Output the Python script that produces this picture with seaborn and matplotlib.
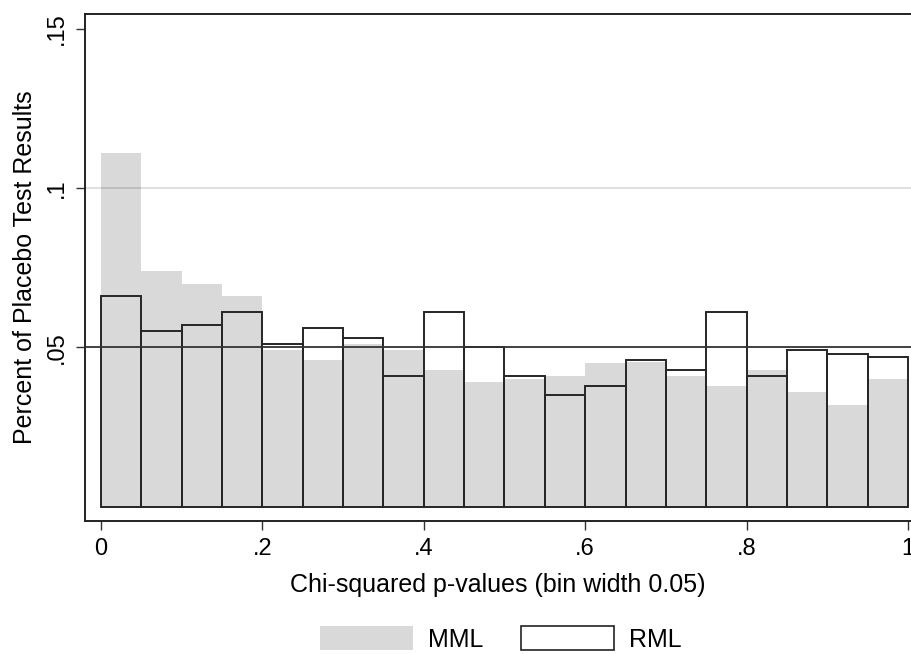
import numpy as np
import pandas as pd
import seaborn as sns
import matplotlib.pyplot as plt
from matplotlib.patches import Patch

# bin heights (bin width 0.05, 20 bins from 0 to 1)
bin_mid = [0.025, 0.075, 0.125, 0.175, 0.225, 0.275, 0.325, 0.375, 0.425, 0.475,
           0.525, 0.575, 0.625, 0.675, 0.725, 0.775, 0.825, 0.875, 0.925, 0.975]
mml = [0.111, 0.074, 0.070, 0.066, 0.049, 0.046, 0.051, 0.049, 0.043, 0.039,
       0.040, 0.041, 0.045, 0.0455, 0.041, 0.038, 0.043, 0.036, 0.032, 0.040]
rml = [0.066, 0.055, 0.057, 0.061, 0.051, 0.056, 0.053, 0.041, 0.061, 0.050,
       0.041, 0.035, 0.038, 0.046, 0.043, 0.061, 0.041, 0.049, 0.048, 0.047]

xticks = [0, 0.2, 0.4, 0.6, 0.8, 1]
xticklabels = ['0', '.2', '.4', '.6', '.8', '1']
yticks = [0.05, 0.1, 0.15]
yticklabels = ['.05', '.1', '.15']

df = pd.DataFrame({'p': bin_mid, 'MML': mml, 'RML': rml})

sns.set_style('white')
plt.rcParams['font.family'] = ['Liberation Sans', 'DejaVu Sans']
plt.rcParams['text.color'] = 'black'
plt.rcParams['axes.labelcolor'] = 'black'
plt.rcParams['xtick.color'] = 'black'
plt.rcParams['ytick.color'] = 'black'

fig = plt.figure(figsize=(9.11, 6.54), dpi=100)
ax = fig.add_axes([0.0933, 0.2034, 0.9067, 0.7752])

sns.histplot(data=df, x='p', weights='MML', binwidth=0.05, binrange=(0, 1),
             color='#d9d9d9', alpha=1, linewidth=0, ax=ax, zorder=1)
sns.histplot(data=df, x='p', weights='RML', binwidth=0.05, binrange=(0, 1),
             fill=False, color='#262626', linewidth=1.4, ax=ax, zorder=2)

ax.axhline(0.1, color='black', alpha=0.12, lw=1.5, zorder=3)
ax.axhline(0.05, color='#333333', lw=1.3, zorder=4)

ax.set_xlim(-0.0198, 1.0037)
ax.set_ylim(-0.0045, 0.1546)
ax.set_xticks(xticks)
ax.set_xticklabels(xticklabels)
ax.set_yticks(yticks)
ax.set_yticklabels(yticklabels, rotation=90, va='center')
ax.tick_params(axis='both', direction='out', length=6.5, width=1,
               labelsize=17, pad=6, left=True, bottom=True)
ax.tick_params(axis='both', color='#333333')

ax.set_xlabel('Chi-squared p-values (bin width 0.05)', fontsize=18, labelpad=9)
ax.set_ylabel('Percent of Placebo Test Results', fontsize=18, labelpad=6)

for side in ['left', 'bottom', 'top']:
    ax.spines[side].set_color('#222222')
    ax.spines[side].set_linewidth(1.4)
ax.spines['right'].set_visible(False)

handles = [Patch(facecolor='#d9d9d9', edgecolor='none', label='MML'),
           Patch(facecolor='white', edgecolor='#222222', linewidth=1.2, label='RML')]
fig.legend(handles=handles, loc='center', bbox_to_anchor=(0.55, 0.023), ncol=2,
           frameon=False, fontsize=18, handlelength=3.7, handleheight=1.05,
           handletextpad=0.62, columnspacing=1.5)

plt.savefig('out.png', dpi=100)
